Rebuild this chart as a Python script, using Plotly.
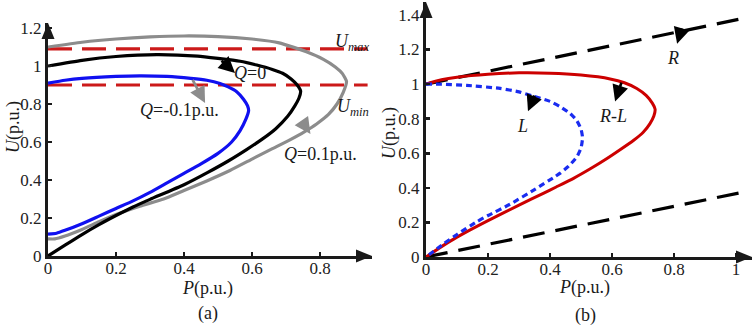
import plotly.graph_objects as go

W, H = 754, 325
FONT = "Liberation Serif, Times New Roman, serif"

# ---------------- data: panel (a) ----------------
# Q = 0.1 p.u. (gray)
P_qp = [0, 0.1, 0.2, 0.3, 0.4, 0.5, 0.6, 0.68, 0.76, 0.81, 0.845, 0.866, 0.878,
        0.868, 0.85, 0.825, 0.79, 0.755, 0.71, 0.66, 0.6, 0.535, 0.467, 0.4, 0.34,
        0.27, 0.2, 0.15, 0.1, 0.05, 0.02, 0]
U_qp = [1.10, 1.125, 1.142, 1.153, 1.158, 1.155, 1.142, 1.122, 1.075, 1.035, 0.995, 0.96,
        0.918, 0.86, 0.80, 0.745, 0.695, 0.655, 0.61, 0.565, 0.51, 0.45, 0.395, 0.345,
        0.30, 0.262, 0.218, 0.18, 0.14, 0.105, 0.09, 0.09]
# Q = 0 (black)
P_q0 = [0, 0.1, 0.2, 0.32, 0.44, 0.5, 0.565, 0.614, 0.66, 0.69, 0.715, 0.733, 0.743, 0.738,
        0.726, 0.705, 0.67, 0.63, 0.584, 0.53, 0.47, 0.4, 0.3, 0.25, 0.2, 0.15, 0.1, 0.05, 0]
U_q0 = [1.0, 1.03, 1.05, 1.06, 1.052, 1.04, 1.025, 1.005, 0.982, 0.962, 0.932, 0.9, 0.868,
        0.83, 0.79, 0.735, 0.67, 0.615, 0.56, 0.5, 0.44, 0.375, 0.298, 0.258, 0.213, 0.165,
        0.113, 0.057, 0]
# Q = -0.1 p.u. (blue)
P_qm = [0, 0.05, 0.1, 0.2, 0.27, 0.35, 0.42, 0.467, 0.506, 0.53, 0.555, 0.575, 0.587, 0.59,
        0.582, 0.565, 0.54, 0.5, 0.45, 0.4, 0.35, 0.3, 0.25, 0.2, 0.15, 0.1, 0.05, 0.025, 0]
U_qm = [0.91, 0.925, 0.935, 0.945, 0.948, 0.945, 0.935, 0.925, 0.908, 0.89, 0.865, 0.825,
        0.79, 0.765, 0.72, 0.66, 0.6, 0.54, 0.485, 0.435, 0.385, 0.335, 0.29, 0.25, 0.21,
        0.17, 0.135, 0.12, 0.115]
# voltage limits (red dashed)
P_lim = [0, 0.94]
U_max = [1.09, 1.09]
U_min = [0.9, 0.9]

# ---------------- data: panel (b) ----------------
P_rl = [0, 0.05, 0.1, 0.2, 0.3, 0.4, 0.5, 0.594, 0.64, 0.68, 0.71, 0.73, 0.739, 0.735,
        0.722, 0.7, 0.67, 0.626, 0.58, 0.53, 0.476, 0.42, 0.38, 0.3, 0.2, 0.1, 0.05, 0]
U_rl = [1.0, 1.025, 1.04, 1.057, 1.065, 1.063, 1.052, 1.03, 1.008, 0.975, 0.935, 0.89,
        0.855, 0.815, 0.77, 0.72, 0.675, 0.62, 0.565, 0.51, 0.455, 0.405, 0.37, 0.3, 0.21,
        0.115, 0.06, 0]
P_l = [0, 0.05, 0.131, 0.239, 0.3, 0.346, 0.4, 0.432, 0.465, 0.486, 0.5, 0.505, 0.5, 0.487,
       0.46, 0.433, 0.412, 0.35, 0.271, 0.2, 0.165, 0.1, 0.058, 0]
U_l = [1.0, 0.999, 0.993, 0.975, 0.955, 0.93, 0.9, 0.87, 0.83, 0.79, 0.74, 0.69, 0.63, 0.58,
       0.525, 0.485, 0.46, 0.39, 0.305, 0.24, 0.205, 0.13, 0.078, 0]
P_R = [0, 1.01]
U_R_hi = [1.0, 1.375]
U_R_lo = [0, 0.37]

# tick values
xt_a = [0, 0.2, 0.4, 0.6, 0.8]
yt_a = [0, 0.2, 0.4, 0.6, 0.8, 1, 1.2]
xt_b = [0, 0.2, 0.4, 0.6, 0.8, 1]
yt_b = [0, 0.2, 0.4, 0.6, 0.8, 1, 1.2, 1.4]

# labels
lab_a = ["<i>U</i><sub><i>max</i></sub>", "<i>U</i><sub><i>min</i></sub>", "<i>Q</i>=0",
         "<i>Q</i>=-0.1p.u.", "<i>Q</i>=0.1p.u."]
lab_b = ["<i>R</i>", "<i>R</i>-<i>L</i>", "<i>L</i>"]


def px(x):
    return x / W


def py(y):
    return 1 - y / H


fig = go.Figure()

AX = "#1a1a1a"
GRAY = "#8c8c8c"
BLUE = "#1010f0"
RED = "#cc1a1a"
SM = dict(shape="spline", smoothing=0.5)

fig.add_trace(go.Scatter(x=P_lim, y=U_max, mode="lines", xaxis="x", yaxis="y",
                         line=dict(color=RED, width=3.2, dash="24px,10px")))
fig.add_trace(go.Scatter(x=P_lim, y=U_min, mode="lines", xaxis="x", yaxis="y",
                         line=dict(color=RED, width=3.2, dash="24px,10px")))
fig.add_trace(go.Scatter(x=P_qp, y=U_qp, mode="lines", xaxis="x", yaxis="y",
                         line=dict(color=GRAY, width=3.2, **SM)))
fig.add_trace(go.Scatter(x=P_q0, y=U_q0, mode="lines", xaxis="x", yaxis="y",
                         line=dict(color="#000000", width=3.2, **SM)))
fig.add_trace(go.Scatter(x=P_qm, y=U_qm, mode="lines", xaxis="x", yaxis="y",
                         line=dict(color=BLUE, width=3.2, **SM)))

fig.add_trace(go.Scatter(x=P_R, y=U_R_hi, mode="lines", xaxis="x2", yaxis="y2",
                         line=dict(color="#000000", width=3.2, dash="22px,11px")))
fig.add_trace(go.Scatter(x=P_R, y=U_R_lo, mode="lines", xaxis="x2", yaxis="y2",
                         line=dict(color="#000000", width=3.2, dash="22px,11px")))
fig.add_trace(go.Scatter(x=P_rl, y=U_rl, mode="lines", xaxis="x2", yaxis="y2",
                         line=dict(color="#cc0000", width=3, **SM)))
fig.add_trace(go.Scatter(x=P_l, y=U_l, mode="lines", xaxis="x2", yaxis="y2",
                         line=dict(color="#1a2cf0", width=3.2, dash="6px,4px", **SM)))

# axis geometry (pixels)
a_x0, a_x1, a_y0, a_y1 = 48, 372, 256, 23
b_x0, b_x1, b_y0, b_y1 = 426, 752, 257, 2

axcommon = dict(showgrid=False, zeroline=False, showline=True, linewidth=3, linecolor=AX,
                ticks="inside", ticklen=4, tickwidth=2.5, tickcolor=AX, automargin=False,
                tickfont=dict(family=FONT, size=17, color="#222222"), fixedrange=True)

fig.update_layout(
    width=W, height=H, margin=dict(l=0, r=0, t=0, b=0, autoexpand=False),
    font=dict(family=FONT, size=17, color="#1a1a1a"),
    paper_bgcolor="white", plot_bgcolor="white", showlegend=False,
    xaxis=dict(domain=[px(a_x0), px(a_x1)], range=[0, (a_x1 - a_x0) / 340],
               tickvals=xt_a, anchor="y", ticklabelstandoff=-5, **axcommon),
    yaxis=dict(domain=[py(a_y0), py(a_y1)], range=[0, (a_y0 - a_y1) / 190],
               tickvals=yt_a, anchor="x", **axcommon),
    xaxis2=dict(domain=[px(b_x0), px(b_x1)], range=[0, (b_x1 - b_x0) / 310],
                tickvals=xt_b, anchor="y2", ticklabelstandoff=-5, **axcommon),
    yaxis2=dict(domain=[py(b_y0), py(b_y1)], range=[0, (b_y0 - b_y1) / 172.9],
                tickvals=yt_b, anchor="x2", **axcommon),
)

# axis arrowheads
shapes = []
for (x0, x1, y0, y1) in [(a_x0, a_x1, a_y0, a_y1), (b_x0, b_x1, b_y0, b_y1)]:
    L, hw = 16, 6.5
    shapes.append(dict(type="path", xref="paper", yref="paper", fillcolor=AX, line=dict(width=0),
                       path=f"M{px(x1)},{py(y0)} L{px(x1 - L)},{py(y0 - hw)} L{px(x1 - L)},{py(y0 + hw)} Z"))
    shapes.append(dict(type="path", xref="paper", yref="paper", fillcolor=AX, line=dict(width=0),
                       path=f"M{px(x0)},{py(y1)} L{px(x0 - hw)},{py(y1 + L)} L{px(x0 + hw)},{py(y1 + L)} Z"))
fig.update_layout(shapes=shapes)

tfont = dict(family=FONT, size=18, color="#1a1a1a")
C = dict(xanchor="center", yanchor="middle", showarrow=False, font=tfont)
ann = []
# panel (a) labels
ann.append(dict(x=0.894, y=1.126, xref="x", yref="y", text=lab_a[0], **C))
ann.append(dict(x=0.897, y=0.784, xref="x", yref="y", text=lab_a[1], **C))
ann.append(dict(x=0.594, y=0.963, xref="x", yref="y", text=lab_a[2], **C))
ann.append(dict(x=0.388, y=0.768, xref="x", yref="y", text=lab_a[3], **C))
ann.append(dict(x=0.80, y=0.535, xref="x", yref="y", text=lab_a[4], **C))
# panel (a) arrows
for (tx, ty, hx, hy, c) in [(0.506, 1.035, 0.55, 0.963, "#000000"),
                            (0.423, 0.935, 0.462, 0.805, GRAY),
                            (0.75, 0.70, 0.772, 0.642, GRAY)]:
    ann.append(dict(x=hx, y=hy, ax=tx, ay=ty, xref="x", yref="y", axref="x", ayref="y",
                    text="", showarrow=True, arrowhead=2, arrowsize=1.2, arrowwidth=2.7,
                    arrowcolor=c, standoff=0, startstandoff=0))
# panel (b) labels
ann.append(dict(x=0.797, y=1.151, xref="x2", yref="y2", text=lab_b[0], **C))
ann.append(dict(x=0.603, y=0.814, xref="x2", yref="y2", text=lab_b[1], **C))
ann.append(dict(x=0.31, y=0.756, xref="x2", yref="y2", text=lab_b[2], **C))
for (tx, ty, hx, hy) in [(0.826, 1.331, 0.81, 1.233), (0.632, 1.017, 0.61, 0.90),
                         (0.352, 0.942, 0.329, 0.843)]:
    ann.append(dict(x=hx, y=hy, ax=tx, ay=ty, xref="x2", yref="y2", axref="x2", ayref="y2",
                    text="", showarrow=True, arrowhead=2, arrowsize=1.2, arrowwidth=2.7,
                    arrowcolor="#000000", standoff=0, startstandoff=0))
# axis titles and captions
ann.append(dict(x=px(207), y=py(288), xref="paper", yref="paper", text="<i>P</i>(p.u.)", **C))
ann.append(dict(x=px(584), y=py(287), xref="paper", yref="paper", text="<i>P</i>(p.u.)", **C))
ann.append(dict(x=px(13), y=py(127), xref="paper", yref="paper", text="<i>U</i>(p.u.)",
                textangle=-90, **C))
ann.append(dict(x=px(389), y=py(133), xref="paper", yref="paper", text="<i>U</i>(p.u.)",
                textangle=-90, **C))
ann.append(dict(x=px(208), y=py(313), xref="paper", yref="paper", text="(a)", **C))
ann.append(dict(x=px(585), y=py(315), xref="paper", yref="paper", text="(b)", **C))
fig.update_layout(annotations=ann)

fig.write_html("out.html", config={"displayModeBar": False, "staticPlot": True},
               post_script="document.body.style.margin='0px';document.body.style.overflow='hidden';")
